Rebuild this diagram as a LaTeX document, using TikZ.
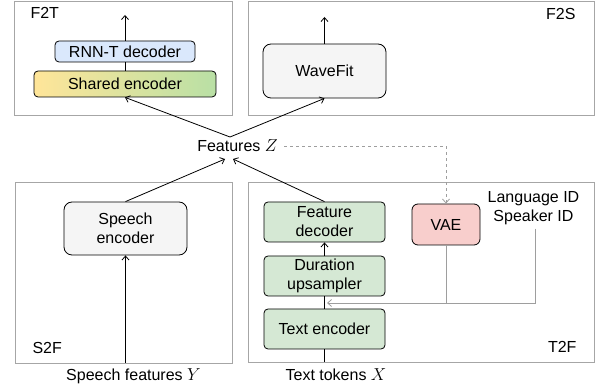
\documentclass[tikz,border=0pt]{standalone}
\usepackage{amsmath,amssymb}
\usepackage{xcolor}
\usepackage{fontspec}
\setmainfont{Liberation Sans}
\usepackage{tikz}
\usetikzlibrary{arrows.meta}

\definecolor{panelgray}{HTML}{A6A6A6}
\definecolor{linkgray}{HTML}{9E9E9E}
\definecolor{boxgray}{HTML}{F5F5F5}
\definecolor{boxblue}{HTML}{DAE8FC}
\definecolor{boxgreen}{HTML}{D5E8D4}
\definecolor{boxred}{HTML}{F8CECC}
\definecolor{gradyellow}{HTML}{FFE599}
\definecolor{gradgreen}{HTML}{B9E0A5}

\begin{document}
\begin{tikzpicture}[x=1pt,y=-1pt,
        font=\fontsize{16}{19}\selectfont,
        panel/.style={draw=panelgray,line width=0.9pt},
        blk/.style={draw=black,line width=0.8pt,rounded corners=4pt,inner sep=0pt,align=center},
        bigblk/.style={blk,rounded corners=8pt},
        link/.style={line width=0.8pt},
        >={Straight Barb[length=4pt,width=7pt]}]
        \useasboundingbox (0,0) rectangle (595,387);
        % Panels
        \draw[panel] (14,1) rectangle (232,115);
        \draw[panel] (248,1) rectangle (594,115);
        \draw[panel] (15,182) rectangle (232,363);
        \draw[panel] (248,182) rectangle (594,362);
        \node[anchor=base west] (ftlab) at (27,19) {F2T};
        \node[anchor=base east] (fslab) at (579,20) {F2S};
        \node[anchor=base west] (sflab) at (29,354) {S2F};
        \node[anchor=base east] (tflab) at (580,353) {T2F};

        % F2T
        \node[blk,fill=boxblue,minimum width=140pt,minimum height=21pt] (rnnt) at (125,51.5) {RNN-T decoder};
        \node[blk,left color=gradyellow,right color=gradgreen,minimum width=182pt,minimum height=26pt] (shared) at (125,84) {Shared encoder};
        \coordinate (rnnout) at (125,15);
        \draw[link] (shared.north) -- (rnnt.south);
        \draw[link,->] (rnnt.north) -- (rnnout);

        % F2S
        \node[bigblk,fill=boxgray,minimum width=123pt,minimum height=54pt] (wavefit) at (324.5,71) {WaveFit};
        \coordinate (waveout) at (wavefit.north |- 0,17);
        \draw[link,->] (wavefit.north) -- (waveout);

        % Features
        \node[anchor=base] (feat) at (237.5,152) {Features $Z$};
        \coordinate (ztop) at (230,137);
        \coordinate (zleft) at (225,159);
        \coordinate (zright) at (233,159);
        \draw[link,->] (ztop) -- (shared.south);
        \draw[link,->] (ztop) -- (wavefit.south);

        % S2F
        \node[bigblk,fill=boxgray,minimum width=123pt,minimum height=53pt] (speech) at (125.5,228.5) {Speech\\encoder};
        \coordinate (yin) at (speech.south |- 0,363);
        \draw[link,->] (yin) -- (speech.south);
        \draw[link,->] (speech.north) -- (zleft);
        \node[anchor=base] (ylab) at (133.5,381) {Speech features $Y$};

        % T2F
        \node[blk,fill=boxgreen,minimum width=121pt,minimum height=40pt] (featdec) at (324.5,222) {Feature\\decoder};
        \node[blk,fill=boxgreen,minimum width=121pt,minimum height=40pt] (durup) at (324.5,276) {Duration\\upsampler};
        \node[blk,fill=boxgreen,minimum width=121pt,minimum height=40pt] (textenc) at (324.5,329) {Text encoder};
        \node[blk,fill=boxred,rounded corners=6pt,minimum width=68pt,minimum height=41pt] (vae) at (446,224.5) {VAE};
        \node[align=center] (ids) at (533.5,208.5) {Language ID\\Speaker ID};
        \coordinate (xin) at (textenc.south |- 0,362);
        \coordinate (cond) at (327,303);
        \draw[link] (xin) -- (textenc.south);
        \draw[link] (textenc.north) -- (durup.south);
        \draw[link,->] (durup.north) -- (featdec.south);
        \draw[link,->] (featdec.north) -- (zright);
        \draw[link,linkgray,->] ([xshift=1.5pt]ids.south) |- (cond);
        \draw[link,linkgray] (vae.south) -- (vae.south |- cond);
        \draw[link,linkgray,dash pattern=on 3pt off 3pt,->] ([xshift=3pt]feat.east) -| (vae.north);
        \node[anchor=base] (xlab) at (336,381) {Text tokens $X$};
\end{tikzpicture}
\end{document}
